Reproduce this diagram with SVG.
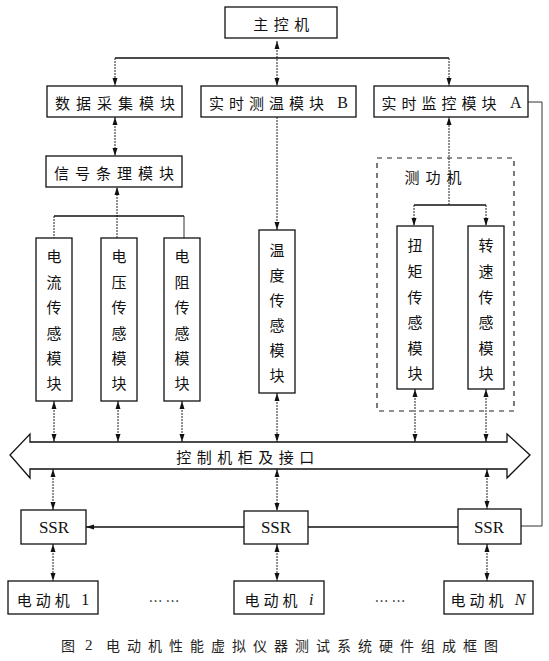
<svg xmlns="http://www.w3.org/2000/svg" width="549" height="661" viewBox="0 0 549 661">
<style>
.box{fill:#fff;stroke:#111;stroke-width:1.3}
.dbox{fill:none;stroke:#222;stroke-width:1.2;stroke-dasharray:5 5}
.t{font-family:"Noto Sans CJK SC","Liberation Sans",sans-serif;font-size:15px;fill:#111;text-anchor:middle;dominant-baseline:central}
.ls{letter-spacing:6px}
.lat{font-family:"Liberation Serif",serif;font-size:16px}
.c{stroke:#222;stroke-width:1;fill:none;stroke-dasharray:2 1}
.s{stroke:#111;stroke-width:1.3;fill:none}
.w{stroke:#333;stroke-width:1;fill:none}
.cap{font-family:"Noto Sans CJK SC","Liberation Sans",sans-serif;font-size:14px;fill:#222;dominant-baseline:central}
</style>
<defs>
<marker id="ah" markerUnits="userSpaceOnUse" markerWidth="8" markerHeight="6" refX="8" refY="3" orient="auto-start-reverse">
<path d="M0,0.5 L8,3 L0,5.5 Z" fill="#111"/>
</marker>
</defs>

<g id="connectors">
<path class="c" d="M277,41 V86" marker-start="url(#ah)" marker-end="url(#ah)"/>
<path class="s" d="M115,58 H449"/>
<path class="c" d="M115,58 V86" marker-end="url(#ah)"/>
<path class="c" d="M449,58 V86" marker-end="url(#ah)"/>
<path class="c" d="M115,117 V156" marker-start="url(#ah)" marker-end="url(#ah)"/>
<path class="c" d="M117,238 V187" marker-end="url(#ah)"/>
<path class="s" d="M54,216 H184"/>
<path class="c" d="M54,216 V238"/>
<path class="w" d="M184,216 V238"/>
<path class="c" d="M54,401 V442" marker-start="url(#ah)" marker-end="url(#ah)"/>
<path class="c" d="M118,401 V442" marker-start="url(#ah)" marker-end="url(#ah)"/>
<path class="c" d="M182,401 V442" marker-start="url(#ah)" marker-end="url(#ah)"/>
<path class="c" d="M277,117 V230" marker-end="url(#ah)"/>
<path class="c" d="M277,393 V442" marker-start="url(#ah)" marker-end="url(#ah)"/>
<path class="c" d="M449,205 V117" marker-end="url(#ah)"/>
<path class="s" d="M414,205 H486"/>
<path class="c" d="M414,205 V226" marker-end="url(#ah)"/>
<path class="c" d="M486,205 V226" marker-end="url(#ah)"/>
<path class="c" d="M415,389 V442" marker-start="url(#ah)" marker-end="url(#ah)"/>
<path class="c" d="M486,389 V442" marker-start="url(#ah)" marker-end="url(#ah)"/>
<path class="c" d="M53,469 V510" marker-start="url(#ah)" marker-end="url(#ah)"/>
<path class="c" d="M277,469 V511" marker-start="url(#ah)" marker-end="url(#ah)"/>
<path class="c" d="M487,469 V509" marker-start="url(#ah)" marker-end="url(#ah)"/>
<path class="c" d="M53,544 V581" marker-start="url(#ah)" marker-end="url(#ah)"/>
<path class="c" d="M277,544 V581" marker-start="url(#ah)" marker-end="url(#ah)"/>
<path class="c" d="M487,544 V581" marker-start="url(#ah)" marker-end="url(#ah)"/>
<path class="s" d="M244,527 H86" marker-end="url(#ah)"/>
<path class="s" d="M308,527 H458"/>
<path class="w" d="M521,526 H542 V102 H528"/>
</g>

<g id="host">
<rect class="box" x="225" y="7" width="112" height="31"/>
<text class="t" x="284" y="23" style="letter-spacing:5.5px">主控机</text>
</g>
<g id="daq">
<rect class="box" x="47" y="86" width="135" height="31"/>
<text class="t ls" x="118" y="102">数据采集模块</text>
</g>
<g id="temp-module">
<rect class="box" x="201" y="86" width="155" height="31"/>
<text class="t" x="281" y="102" style="letter-spacing:5px">实时测温模块 <tspan class="lat">B</tspan></text>
</g>
<g id="monitor-module">
<rect class="box" x="374" y="86" width="154" height="31"/>
<text class="t" x="454" y="102" style="letter-spacing:5px">实时监控模块 <tspan class="lat">A</tspan></text>
</g>
<g id="signal">
<rect class="box" x="46" y="156" width="136" height="31"/>
<text class="t ls" x="117" y="172">信号条理模块</text>
</g>

<g id="current-sensor">
<rect class="box" x="36" y="238" width="36" height="163"/>
<text class="t" x="54"><tspan x="54" y="255">电</tspan><tspan x="54" y="281">流</tspan><tspan x="54" y="306">传</tspan><tspan x="54" y="332">感</tspan><tspan x="54" y="357">模</tspan><tspan x="54" y="382">块</tspan></text>
</g>
<g id="voltage-sensor">
<rect class="box" x="101" y="238" width="36" height="163"/>
<text class="t" x="119"><tspan x="119" y="255">电</tspan><tspan x="119" y="281">压</tspan><tspan x="119" y="306">传</tspan><tspan x="119" y="332">感</tspan><tspan x="119" y="357">模</tspan><tspan x="119" y="382">块</tspan></text>
</g>
<g id="resistance-sensor">
<rect class="box" x="164" y="238" width="36" height="163"/>
<text class="t" x="182"><tspan x="182" y="255">电</tspan><tspan x="182" y="281">阻</tspan><tspan x="182" y="306">传</tspan><tspan x="182" y="332">感</tspan><tspan x="182" y="357">模</tspan><tspan x="182" y="382">块</tspan></text>
</g>
<g id="temperature-sensor">
<rect class="box" x="259" y="230" width="36" height="163"/>
<text class="t" x="277"><tspan x="277" y="249">温</tspan><tspan x="277" y="274">度</tspan><tspan x="277" y="299">传</tspan><tspan x="277" y="324">感</tspan><tspan x="277" y="349">模</tspan><tspan x="277" y="374">块</tspan></text>
</g>

<g id="dynamometer">
<rect class="dbox" x="377" y="158" width="137" height="253"/>
<text class="t" x="436" y="176" style="letter-spacing:6px">测功机</text>
</g>
<g id="torque-sensor">
<rect class="box" x="397" y="226" width="36" height="163"/>
<text class="t" x="415"><tspan x="415" y="244">扭</tspan><tspan x="415" y="270">矩</tspan><tspan x="415" y="296">传</tspan><tspan x="415" y="321">感</tspan><tspan x="415" y="347">模</tspan><tspan x="415" y="372">块</tspan></text>
</g>
<g id="speed-sensor">
<rect class="box" x="468" y="226" width="36" height="163"/>
<text class="t" x="486"><tspan x="486" y="244">转</tspan><tspan x="486" y="270">速</tspan><tspan x="486" y="296">传</tspan><tspan x="486" y="321">感</tspan><tspan x="486" y="347">模</tspan><tspan x="486" y="372">块</tspan></text>
</g>

<g id="bus">
<path class="box" d="M30,442 H507 V434 L530,455 L507,478 V469 H30 V478 L10,455 L30,434 Z"/>
<text class="t" x="248" y="456" style="letter-spacing:5.5px">控制机柜及接口</text>
</g>

<g id="ssr-1">
<rect class="box" x="21" y="510" width="65" height="34"/>
<text class="t lat" x="54" y="527" style="font-size:17px">SSR</text>
</g>
<g id="ssr-i">
<rect class="box" x="244" y="511" width="64" height="33"/>
<text class="t lat" x="276" y="527" style="font-size:17px">SSR</text>
</g>
<g id="ssr-n">
<rect class="box" x="458" y="509" width="63" height="35"/>
<text class="t lat" x="489" y="527" style="font-size:17px">SSR</text>
</g>

<g id="motor-1">
<rect class="box" x="8" y="581" width="90" height="33"/>
<text class="t" x="55" y="599" style="letter-spacing:4px">电动机 <tspan class="lat">1</tspan></text>
</g>
<g id="motor-i">
<rect class="box" x="234" y="581" width="90" height="33"/>
<text class="t" x="281" y="599" style="letter-spacing:4px">电动机 <tspan class="lat" font-style="italic">i</tspan></text>
</g>
<g id="motor-n">
<rect class="box" x="444" y="581" width="89" height="33"/>
<text class="t" x="490" y="599" style="letter-spacing:4px">电动机 <tspan class="lat" font-style="italic">N</tspan></text>
</g>

<text class="t" x="164" y="600" style="font-size:14px">… …</text>
<text class="t" x="390" y="600" style="font-size:14px">… …</text>

<text class="cap" x="61" y="645">图 <tspan class="lat" x="85" style="font-size:15px">2</tspan> <tspan x="106" style="letter-spacing:7px">电动机性能虚拟仪器测试系统硬件组成框图</tspan></text>
</svg>
